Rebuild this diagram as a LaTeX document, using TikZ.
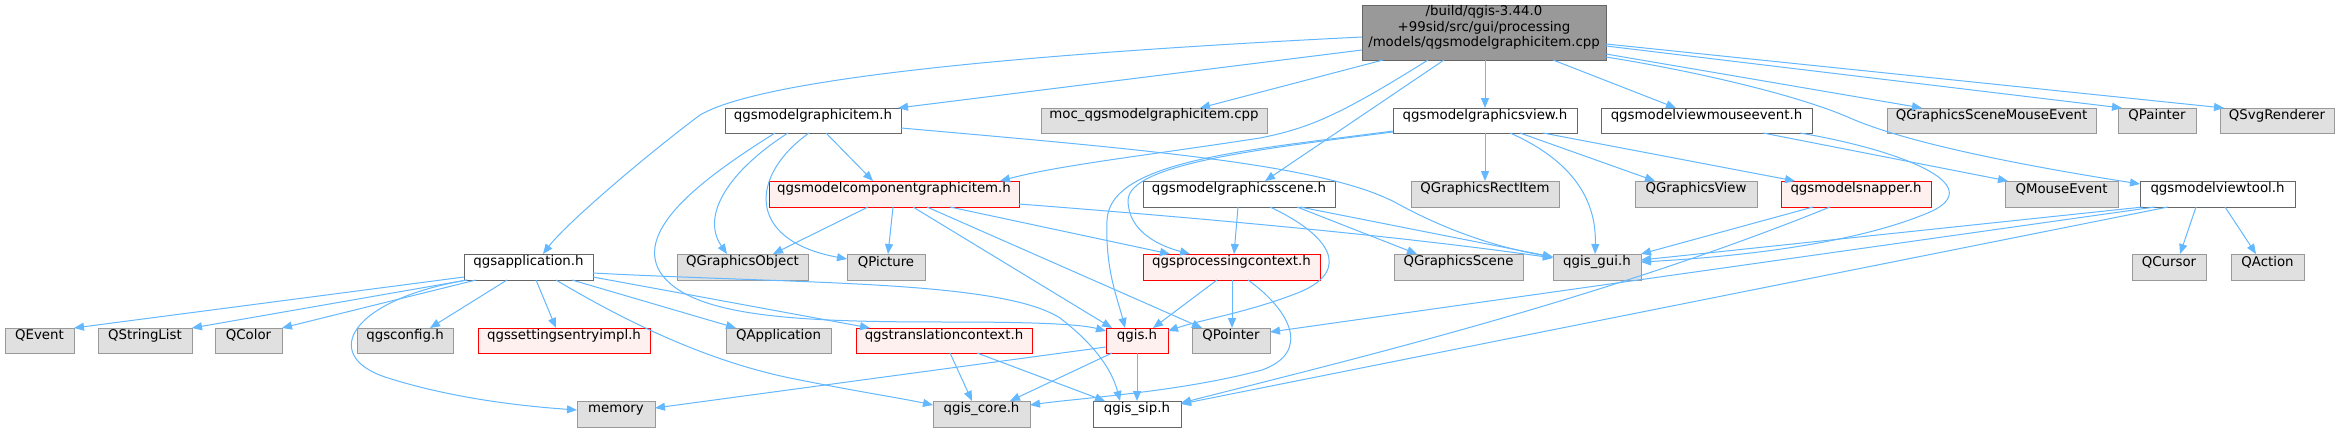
\documentclass[tikz,border=0pt]{standalone}
\usepackage{fontspec}
\setmainfont{DejaVu Sans}
\usetikzlibrary{arrows.meta,fit}
\definecolor{edgec}{HTML}{63B8FF}
\definecolor{grayf}{HTML}{E0E0E0}
\definecolor{grayb}{HTML}{999999}
\definecolor{whb}{HTML}{666666}
\definecolor{redb}{HTML}{FF0000}
\definecolor{redf}{HTML}{FFF0F0}
\definecolor{rootf}{HTML}{999999}
\begin{document}
\begin{tikzpicture}[x=0.75pt,y=-0.75pt,
  nb/.style={rectangle, inner sep=0pt, outer sep=0pt, line width=0.75pt, font=\fontsize{10}{12}\selectfont, text=black},
  gr/.style={nb, draw=grayb, fill=grayf},
  wh/.style={nb, draw=whb, fill=white},
  rd/.style={nb, draw=redb, fill=redf},
  rt/.style={nb, draw=whb, fill=rootf, align=left, font=\fontsize{10}{11.6}\selectfont},
  dep/.style={draw=edgec, line width=0.75pt, -{Triangle[length=7.5pt,width=6pt]}}]
\fill[white] (0,0) rectangle (2340,432);
\useasboundingbox (0,0) rectangle (2340,432);
% row 1
\node[rt, fit={(1362,5)(1606,60)}] (root) {/build/qgis-3.44.0\\+99sid/src/gui/processing\\/models/qgsmodelgraphicitem.cpp};
% row 2
\node[wh, fit={(725,108)(901,133)}] (mgi) {qgsmodelgraphicitem.h};
\node[gr, fit={(1041,108)(1267,133)}] (moc) {moc\_qgsmodelgraphicitem.cpp};
\node[wh, fit={(1393,108)(1577,133)}] (gview) {qgsmodelgraphicsview.h};
\node[wh, fit={(1601,108)(1812,133)}] (vme) {qgsmodelviewmouseevent.h};
\node[gr, fit={(1887,108)(2096,133)}] (gsme) {QGraphicsSceneMouseEvent};
\node[gr, fit={(2118,108)(2196,133)}] (qpainter) {QPainter};
\node[gr, fit={(2220,108)(2334,133)}] (svg) {QSvgRenderer};
% row 3
\node[rd, fit={(769,181)(1019,207)}] (mcgi) {qgsmodelcomponentgraphicitem.h};
\node[wh, fit={(1143,181)(1335,207)}] (gscene) {qgsmodelgraphicsscene.h};
\node[gr, fit={(1411,181)(1559,207)}] (rect) {QGraphicsRectItem};
\node[gr, fit={(1635,181)(1757,207)}] (gviewq) {QGraphicsView};
\node[rd, fit={(1781,181)(1931,207)}] (snap) {qgsmodelsnapper.h};
\node[gr, fit={(2005,181)(2118,207)}] (mouse) {QMouseEvent};
\node[wh, fit={(2140,181)(2295,207)}] (vtool) {qgsmodelviewtool.h};
% row 4
\node[wh, fit={(464,254)(593,280)}] (app) {qgsapplication.h};
\node[gr, fit={(677,254)(808,280)}] (gobj) {QGraphicsObject};
\node[gr, fit={(847,254)(925,280)}] (pic) {QPicture};
\node[rd, fit={(1143,254)(1320,280)}] (proc) {qgsprocessingcontext.h};
\node[gr, fit={(1394,254)(1523,280)}] (qgscene) {QGraphicsScene};
\node[gr, fit={(1553,254)(1641,280)}] (gui) {qgis\_gui.h};
\node[gr, fit={(2132,254)(2206,280)}] (cursor) {QCursor};
\node[gr, fit={(2231,254)(2304,280)}] (action) {QAction};
% row 5
\node[gr, fit={(5,328)(74,353)}] (qevent) {QEvent};
\node[gr, fit={(98,328)(192,353)}] (strl) {QStringList};
\node[gr, fit={(215,328)(282,353)}] (color) {QColor};
\node[gr, fit={(357,328)(453,353)}] (config) {qgsconfig.h};
\node[rd, fit={(478,328)(650,353)}] (settings) {qgssettingsentryimpl.h};
\node[gr, fit={(726,328)(831,353)}] (qapp) {QApplication};
\node[rd, fit={(856,328)(1032,353)}] (trans) {qgstranslationcontext.h};
\node[rd, fit={(1106,328)(1168,353)}] (qgis) {qgis.h};
\node[gr, fit={(1192,328)(1270,353)}] (pointer) {QPointer};
% row 6
\node[gr, fit={(577,401)(655,427)}] (memory) {memory};
\node[gr, fit={(933,401)(1030,427)}] (core) {qgis\_core.h};
\node[wh, fit={(1093,401)(1181,427)}] (sip) {qgis\_sip.h};
% edges from root
\draw[dep] (root.west |- 0,37) .. controls (1000,55) and (760,80) .. (700,115) .. controls (640,160) and (565,225) .. (app.north -| 543,0);
\draw[dep] (root.west |- 0,50) -- (mgi.north -| 898,0);
\draw[dep] (root.south -| 1383,0) -- (moc.north -| 1200,0);
\draw[dep] (root.south -| 1485,0) -- (gview.north -| 1485,0);
\draw[dep] (root.south -| 1428,0) .. controls (1340,115) and (1310,128) .. (1260,138) .. controls (1150,155) and (1060,165) .. (mcgi.north -| 1000,0);
\draw[dep] (root.south -| 1444,0) -- (gscene.north -| 1265,0);
\draw[dep] (root.south -| 1553,0) -- (vme.north -| 1676,0);
\draw[dep] (root.east |- 0,54) -- (gsme.north -| 1922,0);
\draw[dep] (root.east |- 0,46) -- (qpainter.north -| 2122,0);
\draw[dep] (root.east |- 0,44) -- (svg.north -| 2224,0);
\draw[dep] (root.east |- 0,57) .. controls (1700,72) and (1800,96) .. (1850,118) .. controls (1900,140) and (2000,162) .. (vtool.west |- 0,184);
% qgsmodelgraphicitem.h
\draw[dep] (mgi.south -| 826,0) -- (mcgi.north -| 873,0);
\draw[dep] (mgi.east |- 0,128) .. controls (1150,150) and (1330,165) .. (1400,205) .. controls (1450,232) and (1500,248) .. (gui.west |- 0,257);
\draw[dep] (mgi.south -| 775,0) .. controls (700,180) and (635,230) .. (660,272) .. controls (690,318) and (800,322) .. (950,322) .. controls (1030,322) and (1080,324) .. (qgis.west |- 0,331);
\draw[dep] (mgi.south -| 788,0) .. controls (730,170) and (700,215) .. (gobj.north -| 727,0);
\draw[dep] (mgi.south -| 809,0) .. controls (750,175) and (745,240) .. (pic.west |- 0,259);
% qgsmodelcomponentgraphicitem.h
\draw[dep] (mcgi.south -| 868,0) -- (gobj.north -| 773,0);
\draw[dep] (mcgi.south -| 893,0) -- (pic.north -| 888,0);
\draw[dep] (mcgi.south -| 913,0) -- (qgis.north -| 1112,0);
\draw[dep] (mcgi.south -| 927,0) -- (pointer.north -| 1202,0);
\draw[dep] (mcgi.south -| 950,0) -- (proc.north -| 1170,0);
\draw[dep] (mcgi.east |- 0,204) .. controls (1200,218) and (1400,236) .. (gui.west |- 0,258);
% qgsmodelgraphicsview.h
\draw[dep] (gview.south -| 1485,0) -- (rect.north -| 1485,0);
\draw[dep] (gview.south -| 1520,0) -- (gviewq.north -| 1655,0);
\draw[dep] (gview.south -| 1543,0) -- (snap.north -| 1795,0);
\draw[dep] (gview.south -| 1510,0) .. controls (1560,155) and (1597,190) .. (gui.north -| 1595,0);
\draw[dep] (gview.west |- 0,131) .. controls (1250,150) and (1110,160) .. (1107,220) .. controls (1105,270) and (1118,300) .. (qgis.north -| 1125,0);
\draw[dep] (gview.west |- 0,132) .. controls (1250,150) and (1130,165) .. (1128,200) .. controls (1128,232) and (1160,246) .. (proc.north -| 1190,0);
% qgsmodelgraphicsscene.h
\draw[dep] (gscene.south -| 1238,0) -- (proc.north -| 1234,0);
\draw[dep] (gscene.south -| 1297,0) -- (qgscene.north -| 1417,0);
\draw[dep] (gscene.south -| 1300,0) -- (gui.west |- 0,257);
\draw[dep] (gscene.south -| 1270,0) .. controls (1330,235) and (1352,270) .. (1300,292) .. controls (1250,312) and (1200,320) .. (qgis.east |- 0,331);
% qgsmodelviewmouseevent.h
\draw[dep] (vme.south -| 1763,0) -- (mouse.north -| 2008,0);
\draw[dep] (vme.south -| 1800,0) .. controls (1900,150) and (1990,185) .. (1930,212) .. controls (1860,242) and (1750,256) .. (gui.east |- 0,262);
% qgsmodelsnapper.h
\draw[dep] (snap.south -| 1813,0) -- (gui.east |- 0,254);
\draw[dep] (snap.south -| 1830,0) .. controls (1600,300) and (1350,360) .. (sip.east |- 0,403);
% qgsmodelviewtool.h
\draw[dep] (vtool.south -| 2196,0) -- (cursor.north -| 2180,0);
\draw[dep] (vtool.south -| 2225,0) -- (action.north -| 2256,0);
\draw[dep] (vtool.south -| 2143,0) -- (gui.east |- 0,260);
\draw[dep] (vtool.south -| 2155,0) -- (pointer.east |- 0,332);
\draw[dep] (vtool.south -| 2168,0) -- (sip.east |- 0,404);
% qgsapplication.h
\draw[dep] (app.west |- 0,277) -- (qevent.north east);
\draw[dep] (app.south -| 467,0) -- (strl.north east);
\draw[dep] (app.south -| 476,0) -- (color.north east);
\draw[dep] (app.south -| 507,0) -- (config.north -| 430,0);
\draw[dep] (app.south -| 536,0) -- (settings.north -| 556,0);
\draw[dep] (app.south -| 467,0) .. controls (350,300) and (320,355) .. (385,377) .. controls (450,398) and (520,406) .. (memory.west |- 0,410);
\draw[dep] (app.south -| 572,0) -- (qapp.north -| 736,0);
\draw[dep] (app.south -| 556,0) .. controls (640,330) and (720,365) .. (800,380) .. controls (860,392) and (900,398) .. (core.west |- 0,405);
\draw[dep] (app.east |- 0,277) -- (trans.north -| 870,0);
\draw[dep] (app.east |- 0,273) .. controls (800,284) and (1000,280) .. (1060,318) .. controls (1095,345) and (1112,370) .. (sip.north -| 1120,0);
% qgsprocessingcontext.h
\draw[dep] (proc.south -| 1217,0) -- (qgis.north -| 1153,0);
\draw[dep] (proc.south -| 1232,0) -- (pointer.north -| 1232,0);
\draw[dep] (proc.south -| 1248,0) .. controls (1290,310) and (1312,352) .. (1262,370) .. controls (1180,392) and (1080,398) .. (core.east |- 0,405);
% qgis.h
\draw[dep] (qgis.west |- 0,347) -- (memory.east |- 0,408);
\draw[dep] (qgis.south -| 1112,0) -- (core.north -| 1010,0);
\draw[dep] (qgis.south -| 1137,0) -- (sip.north -| 1137,0);
% qgstranslationcontext.h
\draw[dep] (trans.south -| 950,0) -- (core.north -| 972,0);
\draw[dep] (trans.south -| 977,0) -- (sip.north -| 1105,0);
\end{tikzpicture}
\end{document}
